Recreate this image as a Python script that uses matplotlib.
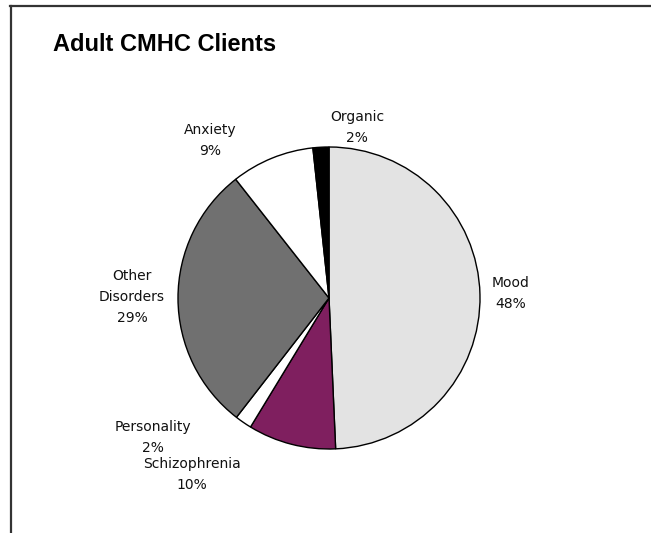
import matplotlib.pyplot as plt
from matplotlib.lines import Line2D

# slice data, clockwise from 12 o'clock
categories = ["Mood", "Schizophrenia", "Personality", "Other\nDisorders", "Anxiety", "Organic"]
shares = [49.3, 9.4, 1.8, 28.9, 8.9, 1.7]
pct_labels = ["48%", "10%", "2%", "29%", "9%", "2%"]
colors = ["#e3e3e3", "#7f1f5f", "#ffffff", "#707070", "#ffffff", "#000000"]

# label anchor points, in units of the pie radius
label_pos = [(1.20, 0.03), (-0.907, -1.169), (-1.166, -0.924),
             (-1.305, 0.007), (-0.788, 1.043), (0.185, 1.129)]

W, H = 651, 533
cx, cy, r = 329, 298, 151

fig = plt.figure(figsize=(W / 100, H / 100), dpi=100)
ax = fig.add_axes([0, 0, 1, 1])
ax.axis("off")

ax.pie(shares, colors=colors, startangle=90, counterclock=False, radius=1.0,
       wedgeprops=dict(edgecolor="black", linewidth=1.0))
ax.set_xlim(-cx / r, (W - cx) / r)
ax.set_ylim((cy - H) / r, cy / r)
ax.set_aspect("auto")

for name, pct, (lx, ly) in zip(categories, pct_labels, label_pos):
    ax.text(lx, ly, f"{name}\n{pct}", ha="center", va="center",
            fontsize=10, family="DejaVu Sans", linespacing=1.65, color="#111111")

fig.text(53 / W, 1 - 45 / H, "Adult CMHC Clients", ha="left", va="center",
         fontsize=17, fontweight="bold", family="Liberation Sans")

# chart border (top and left edges only)
fig.add_artist(Line2D([10 / W, 1], [1 - 6 / H, 1 - 6 / H], color="#333333", lw=1.6))
fig.add_artist(Line2D([11 / W, 11 / W], [0, 1 - 6 / H], color="#333333", lw=1.6))

fig.savefig("out.png", dpi=100)
